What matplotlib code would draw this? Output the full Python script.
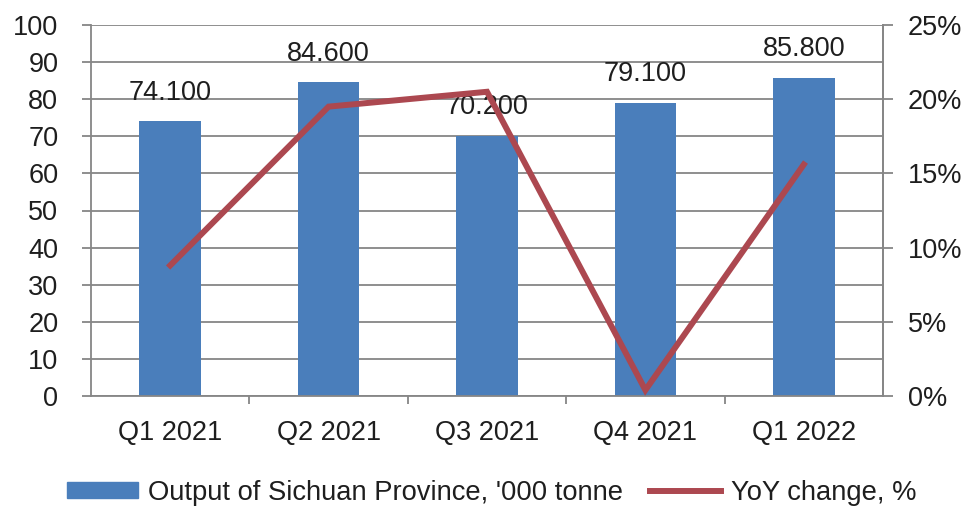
import matplotlib.pyplot as plt
import numpy as np

# data
quarters = ["Q1 2021", "Q2 2021", "Q3 2021", "Q4 2021", "Q1 2022"]
output = [74.1, 84.6, 70.2, 79.1, 85.8]          # '000 tonne
yoy = [8.8, 19.5, 20.5, 0.4, 15.6]               # %
bar_labels = ["74.100", "84.600", "70.200", "79.100", "85.800"]

plt.rcParams['font.family'] = ['Liberation Sans', 'DejaVu Sans']
plt.rcParams['font.size'] = 19.5

bar_color = '#4A7EBB'
line_color = '#AC4850'
grid_color = '#868686'
text_color = '#1E1E1E'

fig = plt.figure(figsize=(9.68, 5.07), dpi=100)
ax = fig.add_axes([91/968, 111/507, 792/968, 371/507])
x = np.arange(len(quarters))

ax.set_axisbelow(True)
ax.yaxis.grid(True, color=grid_color, linewidth=1.3)
ax.bar(x, output, width=0.39, color=bar_color, zorder=2)
ax.set_xlim(-0.5, len(quarters) - 0.5)
ax.set_ylim(0, 100)
ax.set_yticks(np.arange(0, 101, 10))

for xi, v, lab in zip(x, output, bar_labels):
    ax.annotate(lab, (xi, v), xytext=(0, 15.5), textcoords='offset points',
                ha='center', va='baseline', color=text_color)

# category ticks at boundaries, labels at centres
ax.set_xticks(np.arange(0.5, len(quarters) - 0.5, 1.0))
ax.set_xticklabels([])
ax.set_xticks(x, minor=True)
ax.set_xticklabels(quarters, minor=True)
ax.tick_params(axis='x', which='major', direction='out', length=6,
               color=grid_color, width=1.3)
ax.tick_params(axis='x', which='minor', length=0, pad=17, colors=text_color)
ax.tick_params(axis='y', direction='out', length=6.5, width=1.3,
               color=grid_color, pad=17, labelcolor=text_color)

for s in ['left', 'bottom', 'right']:
    ax.spines[s].set_color(grid_color)
    ax.spines[s].set_linewidth(1.3)
ax.spines['top'].set_visible(False)

ax2 = ax.twinx()
ax2.plot(x, yoy, color=line_color, linewidth=4.3, solid_joinstyle='miter', zorder=3)
ax2.set_ylim(0, 25)
ax2.set_yticks(np.arange(0, 26, 5))
ax2.set_yticklabels([f"{v}%" for v in range(0, 26, 5)])
ax2.tick_params(axis='y', direction='out', length=7, width=1.3,
                color=grid_color, pad=11, labelcolor=text_color)
for s in ['left', 'bottom', 'top']:
    ax2.spines[s].set_visible(False)
ax2.spines['right'].set_color(grid_color)
ax2.spines['right'].set_linewidth(1.3)

bar_handle = plt.Rectangle((0, 0), 1, 1, color=bar_color)
line_handle = plt.Line2D([], [], color=line_color, linewidth=4.3)
fig.legend([bar_handle, line_handle],
           ["Output of Sichuan Province, '000 tonne", "YoY change, %"],
           loc='center', bbox_to_anchor=(0.508, 0.028), ncol=2, frameon=False,
           fontsize=19.7, handlelength=2.6, handleheight=0.5, handletextpad=0.35,
           columnspacing=1.0, borderpad=0, labelcolor=text_color)

fig.savefig("out.png", dpi=100)
